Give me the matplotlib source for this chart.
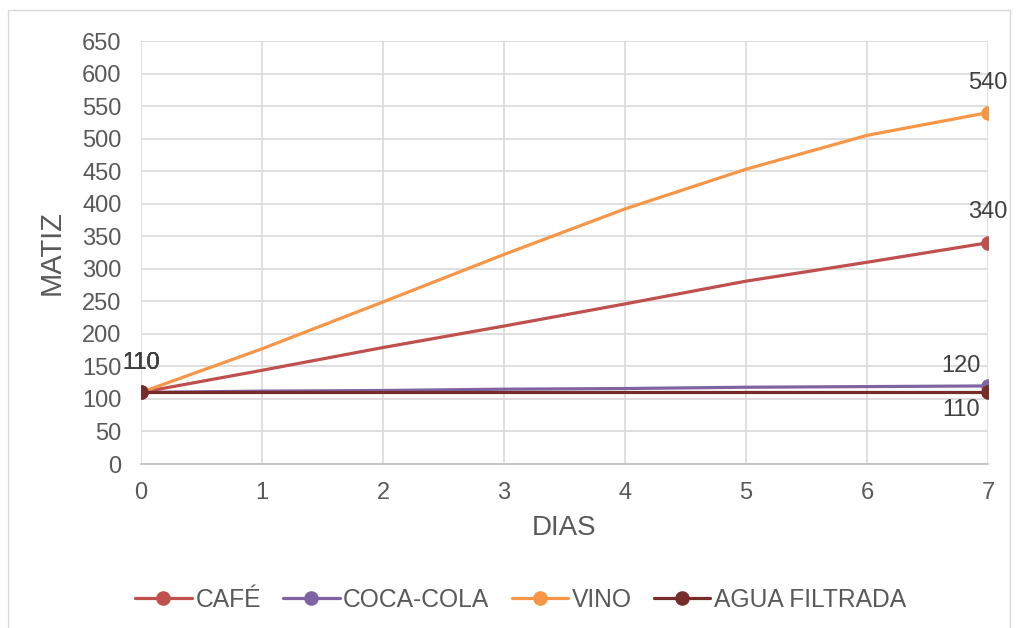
import matplotlib.pyplot as plt
from matplotlib.patches import Rectangle

plt.rcParams['font.family'] = ['Liberation Sans', 'DejaVu Sans']

# days (markers only on first and last)
dias = [0, 1, 2, 3, 4, 5, 6, 7]
cafe = [110, 144, 179, 212, 246, 281, 310, 340]
coca_cola = [110, 112, 113, 115, 116, 118, 119, 120]
vino = [110, 177, 249, 322, 392, 453, 505, 540]
agua_filtrada = [110, 110, 110, 110, 110, 110, 110, 110]

series_names = ["CAFÉ", "COCA-COLA", "VINO", "AGUA FILTRADA"]
series_values = [cafe, coca_cola, vino, agua_filtrada]
colors = ["#C0504D", "#8064A2", "#F79646", "#772C2A"]

text_color = "#595959"
label_color = "#404040"
fs = 17

fig = plt.figure(figsize=(10.17, 6.28), dpi=100)
ax = fig.add_axes([0.1386, 0.2611, 0.8329, 0.6736])

for name, vals, c in zip(series_names, series_values, colors):
    ax.plot(dias, vals, color=c, lw=2.3, marker="o", ms=9.5,
            markevery=[0, len(vals) - 1], label=name, zorder=3,
            solid_capstyle="round", solid_joinstyle="round")

# data labels (the four left ones sit on top of each other)
for vals in series_values:
    ax.annotate(str(vals[0]), (dias[0], vals[0]), xytext=(0, 21.5),
                textcoords="offset points", ha="center", va="center",
                fontsize=fs, color=label_color)
ax.annotate(str(vino[-1]), (dias[-1], vino[-1]), xytext=(0, 21.5),
            textcoords="offset points", ha="center", va="center",
            fontsize=fs, color=label_color)
ax.annotate(str(cafe[-1]), (dias[-1], cafe[-1]), xytext=(0, 22),
            textcoords="offset points", ha="center", va="center",
            fontsize=fs, color=label_color)
ax.annotate(str(coca_cola[-1]), (dias[-1], coca_cola[-1]), xytext=(-19.5, 14.5),
            textcoords="offset points", ha="center", va="center",
            fontsize=fs, color=label_color)
ax.annotate(str(agua_filtrada[-1]), (dias[-1], agua_filtrada[-1]), xytext=(-19.5, -13),
            textcoords="offset points", ha="center", va="center",
            fontsize=fs, color=label_color)

ax.set_xlim(0, 7)
ax.set_ylim(0, 650)
ax.set_xticks(range(0, 8))
ax.set_yticks(range(0, 651, 50))
ax.grid(True, color="#D9D9D9", lw=1.2)
ax.set_axisbelow(True)
for s in ["top", "right", "left"]:
    ax.spines[s].set_visible(False)
ax.spines["bottom"].set_color("#BFBFBF")
ax.spines["bottom"].set_linewidth(1.2)
ax.tick_params(axis="y", length=0, labelsize=fs, colors=text_color, pad=14)
ax.tick_params(axis="x", length=0, labelsize=fs, colors=text_color, pad=13)
ax.set_xlabel("DIAS", fontsize=20, color=text_color, labelpad=8)
ax.set_ylabel("MATIZ", fontsize=21, color=text_color, labelpad=12)

leg = fig.legend(loc="center", bbox_to_anchor=(0.512, 0.045), ncol=4,
                 frameon=False, fontsize=17.7, handlelength=2.3,
                 columnspacing=0.9, handletextpad=0.15)
for t in leg.get_texts():
    t.set_color(text_color)

fig.patches.append(Rectangle((8 / 1017, -0.02), (1010 - 8) / 1017, 1.02 - 10 / 628,
                             transform=fig.transFigure, fill=False,
                             edgecolor="#D9D9D9", lw=1))

fig.savefig("out.png", dpi=100, facecolor="white")
